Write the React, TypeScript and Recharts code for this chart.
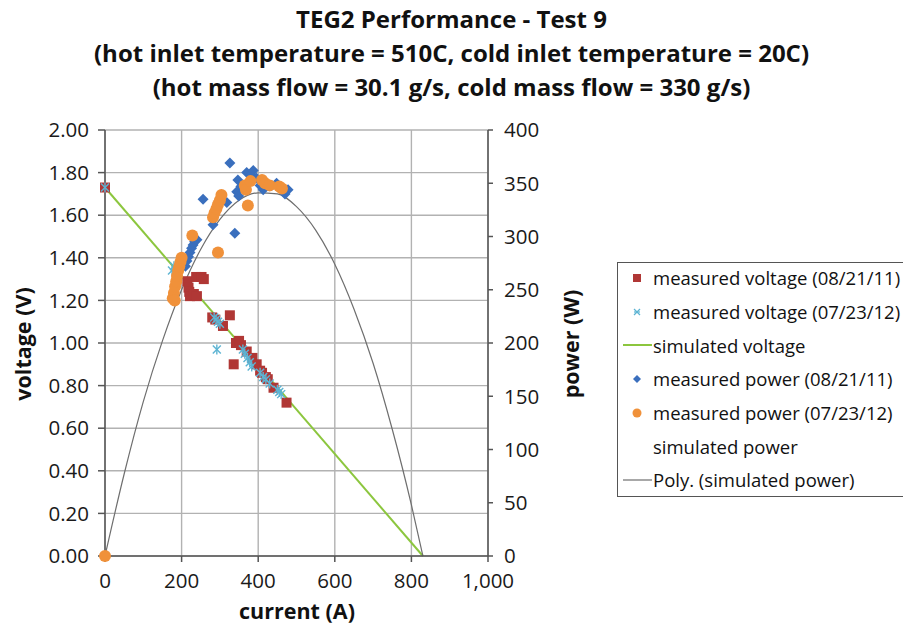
import React from "react";
import { ComposedChart, Scatter, Line, XAxis, YAxis, CartesianGrid } from "recharts";

const FONT = "'Open Sans', sans-serif";

const currentTicks = [0, 200, 400, 600, 800, 1000];
const voltageTicks = [0, 0.2, 0.4, 0.6, 0.8, 1.0, 1.2, 1.4, 1.6, 1.8, 2.0];
const powerTicks = [0, 50, 100, 150, 200, 250, 300, 350, 400];

const titleLines = [
  "TEG2 Performance - Test 9",
  "(hot inlet temperature = 510C, cold inlet temperature = 20C)",
  "(hot mass flow = 30.1 g/s, cold mass flow = 330 g/s)",
];

// current (A), voltage (V)
const measVolt0811 = [
  { x: 0, y: 1.73 }, { x: 215, y: 1.29 }, { x: 218, y: 1.26 }, { x: 220, y: 1.24 },
  { x: 222, y: 1.22 }, { x: 232, y: 1.23 }, { x: 240, y: 1.22 }, { x: 238, y: 1.31 },
  { x: 252, y: 1.31 }, { x: 258, y: 1.3 }, { x: 280, y: 1.12 }, { x: 288, y: 1.11 },
  { x: 308, y: 1.08 }, { x: 326, y: 1.13 }, { x: 336, y: 0.9 }, { x: 342, y: 1.0 },
  { x: 350, y: 1.01 }, { x: 355, y: 0.99 }, { x: 370, y: 0.96 }, { x: 385, y: 0.93 },
  { x: 396, y: 0.9 }, { x: 405, y: 0.87 }, { x: 410, y: 0.86 }, { x: 420, y: 0.84 },
  { x: 425, y: 0.83 }, { x: 440, y: 0.79 }, { x: 474, y: 0.72 },
];

const measVolt0712 = [
  { x: 0, y: 1.73 }, { x: 175, y: 1.34 }, { x: 180, y: 1.36 }, { x: 185, y: 1.32 },
  { x: 190, y: 1.33 }, { x: 285, y: 1.12 }, { x: 290, y: 1.11 }, { x: 295, y: 1.1 },
  { x: 300, y: 1.09 }, { x: 292, y: 0.97 }, { x: 360, y: 0.97 }, { x: 365, y: 0.95 },
  { x: 372, y: 0.93 }, { x: 378, y: 0.91 }, { x: 383, y: 0.89 }, { x: 405, y: 0.86 },
  { x: 413, y: 0.84 }, { x: 420, y: 0.83 }, { x: 430, y: 0.81 }, { x: 450, y: 0.78 },
  { x: 455, y: 0.77 }, { x: 460, y: 0.76 },
];

const simVolt = [
  { x: 0, y: 1.73 },
  { x: 830, y: 0 },
];

// current (A), power (W)
const measPow0811 = [
  { x: 210, y: 272 }, { x: 214, y: 277 }, { x: 218, y: 281 }, { x: 222, y: 285 },
  { x: 226, y: 289 }, { x: 230, y: 292 }, { x: 234, y: 295 }, { x: 240, y: 297 },
  { x: 232, y: 299 }, { x: 256, y: 335 }, { x: 282, y: 311 }, { x: 318, y: 332 },
  { x: 326, y: 369 }, { x: 339, y: 303 }, { x: 344, y: 342 }, { x: 347, y: 353 },
  { x: 349, y: 338 }, { x: 355, y: 347 }, { x: 370, y: 360 }, { x: 380, y: 358 },
  { x: 387, y: 362 }, { x: 395, y: 355 }, { x: 405, y: 348 }, { x: 413, y: 344 },
  { x: 422, y: 350 }, { x: 435, y: 348 }, { x: 448, y: 350 }, { x: 460, y: 346 },
  { x: 478, y: 344 }, { x: 470, y: 340 },
];

const measPow0712 = [
  { x: 0, y: 0 }, { x: 177, y: 242 }, { x: 180, y: 247 }, { x: 183, y: 253 },
  { x: 186, y: 258 }, { x: 188, y: 263 }, { x: 191, y: 268 }, { x: 194, y: 272 },
  { x: 197, y: 276 }, { x: 200, y: 280 }, { x: 182, y: 240 }, { x: 228, y: 301 },
  { x: 282, y: 318 }, { x: 286, y: 322 }, { x: 291, y: 326 }, { x: 295, y: 330 },
  { x: 300, y: 334 }, { x: 304, y: 339 }, { x: 295, y: 285 }, { x: 365, y: 348 },
  { x: 368, y: 344 }, { x: 373, y: 329 }, { x: 380, y: 352 }, { x: 410, y: 353 },
  { x: 418, y: 350 }, { x: 430, y: 348 }, { x: 455, y: 347 }, { x: 462, y: 345 },
];

const polyPower = [
  { x: 0, y: 0 }, { x: 50, y: 77 }, { x: 100, y: 145 }, { x: 150, y: 202 },
  { x: 200, y: 250 }, { x: 250, y: 288 }, { x: 300, y: 316 }, { x: 350, y: 334 },
  { x: 400, y: 341 }, { x: 450, y: 340 }, { x: 500, y: 328 }, { x: 550, y: 306 },
  { x: 600, y: 274 }, { x: 650, y: 232 }, { x: 700, y: 181 }, { x: 750, y: 119 },
  { x: 800, y: 48 }, { x: 830, y: 0 },
];

const RED = "#b03735";
const CYAN = "#5db4d3";
const GREEN = "#8cc63e";
const BLUE = "#3a6fbd";
const ORANGE = "#f0913a";
const GRAY = "#6e6e6e";

function Square(p: any) {
  if (p.cx == null) return null;
  return <rect x={p.cx - 5} y={p.cy - 5} width={10} height={10} fill={RED} />;
}

function Star(p: any) {
  if (p.cx == null) return null;
  const { cx, cy } = p;
  return (
    <g stroke={CYAN} strokeWidth={1.4}>
      <line x1={cx - 4} y1={cy - 4} x2={cx + 4} y2={cy + 4} />
      <line x1={cx - 4} y1={cy + 4} x2={cx + 4} y2={cy - 4} />
      <line x1={cx} y1={cy - 5} x2={cx} y2={cy + 5} />
    </g>
  );
}

function Diamond(p: any) {
  if (p.cx == null) return null;
  const { cx, cy } = p;
  return <polygon points={`${cx},${cy - 5.5} ${cx + 5.5},${cy} ${cx},${cy + 5.5} ${cx - 5.5},${cy}`} fill={BLUE} />;
}

function Dot(p: any) {
  if (p.cx == null) return null;
  return <circle cx={p.cx} cy={p.cy} r={6} fill={ORANGE} />;
}

const legendItems = [
  { label: "measured voltage (08/21/11)", kind: "square" },
  { label: "measured voltage (07/23/12)", kind: "star" },
  { label: "simulated voltage", kind: "green" },
  { label: "measured power (08/21/11)", kind: "diamond" },
  { label: "measured power (07/23/12)", kind: "dot" },
  { label: "simulated power", kind: "none" },
  { label: "Poly. (simulated power)", kind: "gray" },
];

function LegendMark({ kind }: { kind: string }) {
  return (
    <svg width={34} height={20} style={{ flex: "none" }}>
      {kind === "square" && <rect x={15} y={6} width={8} height={8} fill={RED} />}
      {kind === "star" && (
        <g stroke={CYAN} strokeWidth={1.2}>
          <line x1={16} y1={7} x2={22} y2={13} />
          <line x1={16} y1={13} x2={22} y2={7} />
          <line x1={16} y1={10} x2={22} y2={10} />
        </g>
      )}
      {kind === "green" && <line x1={5} y1={10} x2={34} y2={10} stroke={GREEN} strokeWidth={2} />}
      {kind === "diamond" && <polygon points="19,6 23,10 19,14 15,10" fill={BLUE} />}
      {kind === "dot" && <circle cx={19} cy={10} r={4.5} fill={ORANGE} />}
      {kind === "gray" && <line x1={5} y1={10} x2={34} y2={10} stroke={GRAY} strokeWidth={1.2} />}
    </svg>
  );
}

export default function App() {
  const tick = { fill: "#1a1a1a", fontSize: 20.5, fontFamily: FONT };
  const axisTitle: React.CSSProperties = {
    position: "absolute",
    transform: "translate(-50%, -50%) rotate(-90deg)",
    fontWeight: 700,
    fontSize: 21.5,
    whiteSpace: "nowrap",
  };
  return (
    <div
      style={{
        position: "absolute",
        left: 0,
        top: 0,
        width: 903,
        height: 626,
        overflow: "hidden",
        background: "#fff",
        fontFamily: FONT,
        color: "#111",
      }}
    >
      {titleLines.map((t, i) => (
        <div
          key={i}
          style={{
            position: "absolute",
            left: 0,
            width: 903,
            top: 4 + i * 34,
            textAlign: "center",
            fontWeight: 700,
            fontSize: 24,
            lineHeight: "30px",
            whiteSpace: "nowrap",
          }}
        >
          {t}
        </div>
      ))}

      <ComposedChart width={903} height={626} margin={{ top: 130, right: 345, bottom: 40, left: 25 }}>
        <CartesianGrid yAxisId="v" stroke="#b2b2b2" strokeWidth={1.4} />
        <XAxis
          type="number"
          dataKey="x"
          domain={[0, 1000]}
          ticks={currentTicks}
          tickFormatter={(v: number) => v.toLocaleString("en-US")}
          height={30}
          stroke="#555"
          strokeWidth={1.5}
          tickSize={6}
          tickMargin={11}
          tick={tick}
        />
        <YAxis
          yAxisId="v"
          type="number"
          domain={[0, 2]}
          ticks={voltageTicks}
          tickFormatter={(v: number) => v.toFixed(2)}
          width={80}
          stroke="#555"
          strokeWidth={1.5}
          tickSize={7}
          tickMargin={9}
          tick={tick}
        />
        <YAxis
          yAxisId="p"
          orientation="right"
          type="number"
          domain={[0, 400]}
          ticks={powerTicks}
          width={70}
          stroke="#555"
          strokeWidth={1.5}
          tickSize={5}
          tickMargin={11}
          tick={tick}
        />
        <Line
          yAxisId="v"
          data={simVolt}
          dataKey="y"
          type="linear"
          stroke={GREEN}
          strokeWidth={2}
          dot={false}
          activeDot={false}
          isAnimationActive={false}
        />
        <Scatter yAxisId="v" data={measVolt0811} dataKey="y" shape={Square} isAnimationActive={false} />
        <Scatter yAxisId="v" data={measVolt0712} dataKey="y" shape={Star} isAnimationActive={false} />
        <Scatter yAxisId="p" data={measPow0811} dataKey="y" shape={Diamond} isAnimationActive={false} />
        <Scatter yAxisId="p" data={measPow0712} dataKey="y" shape={Dot} isAnimationActive={false} />
        <Line
          yAxisId="p"
          data={polyPower}
          dataKey="y"
          type="monotone"
          stroke={GRAY}
          strokeWidth={1.2}
          dot={false}
          activeDot={false}
          isAnimationActive={false}
        />
      </ComposedChart>

      <div style={{ ...axisTitle, left: 22, top: 344 }}>voltage (V)</div>
      <div style={{ ...axisTitle, left: 570, top: 344 }}>power (W)</div>
      <div
        style={{
          position: "absolute",
          left: 0,
          width: 594,
          top: 597,
          textAlign: "center",
          fontWeight: 700,
          fontSize: 21.5,
          lineHeight: "28px",
        }}
      >
        current (A)
      </div>

      <div
        style={{
          position: "absolute",
          left: 617,
          top: 262,
          width: 300,
          height: 235,
          border: "1.5px solid #555",
          boxSizing: "border-box",
        }}
      >
        <div style={{ marginTop: -2 }}>
          {legendItems.map((it) => (
            <div
              key={it.label}
              style={{ display: "flex", alignItems: "center", height: 33.7, fontSize: 18.5, whiteSpace: "nowrap" }}
            >
              <LegendMark kind={it.kind} />
              <span style={{ marginLeft: 1 }}>{it.label}</span>
            </div>
          ))}
        </div>
      </div>
    </div>
  );
}
